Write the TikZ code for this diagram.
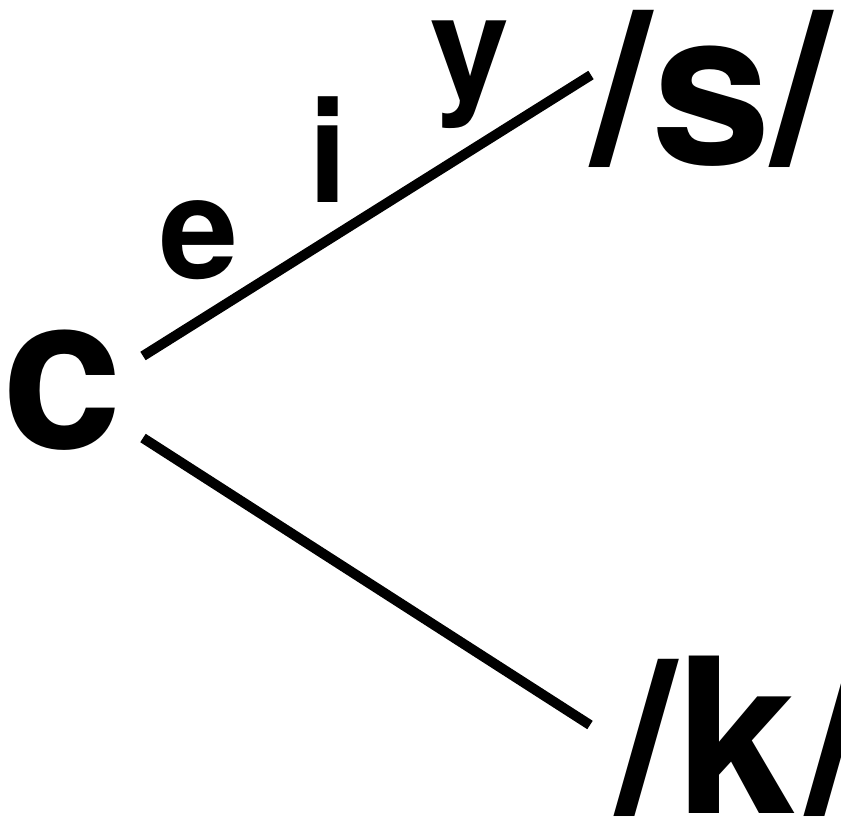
\documentclass[tikz,border=0pt]{standalone}
\usepackage{fontspec}
\setmainfont{TeX Gyre Heros}
\usetikzlibrary{positioning}

\tikzset{
  big/.style={inner sep=0pt, anchor=base west, font=\fontsize{216}{216}\selectfont\bfseries},
  vowel/.style={inner sep=0pt, anchor=base west, font=\fontsize{142}{142}\selectfont\bfseries},
  branch/.style={line width=10pt, line cap=butt}
}

\begin{document}
\begin{tikzpicture}[x=1pt,y=-1pt]
    \useasboundingbox (0,0) rectangle (841,817);

    \node[big] (c) at (2,448) {c};
    \node[big] (s) at (591,164) {/s/};
    \node[big] (k) at (616,813) {/k\kern10pt/};

    \coordinate (cup) at (143,356);
    \coordinate (cdown) at (143,438);
    \coordinate (sin) at (591,75);
    \coordinate (kin) at (590,725);
    \draw[branch] (cup) -- (sin);
    \draw[branch] (cdown) -- (kin);

    \node[vowel] (e) at (159,278) {e};
    \node[vowel] (i) at (308,202) {i};
    \node[vowel] (y) at (430,97) {y};
\end{tikzpicture}
\end{document}
